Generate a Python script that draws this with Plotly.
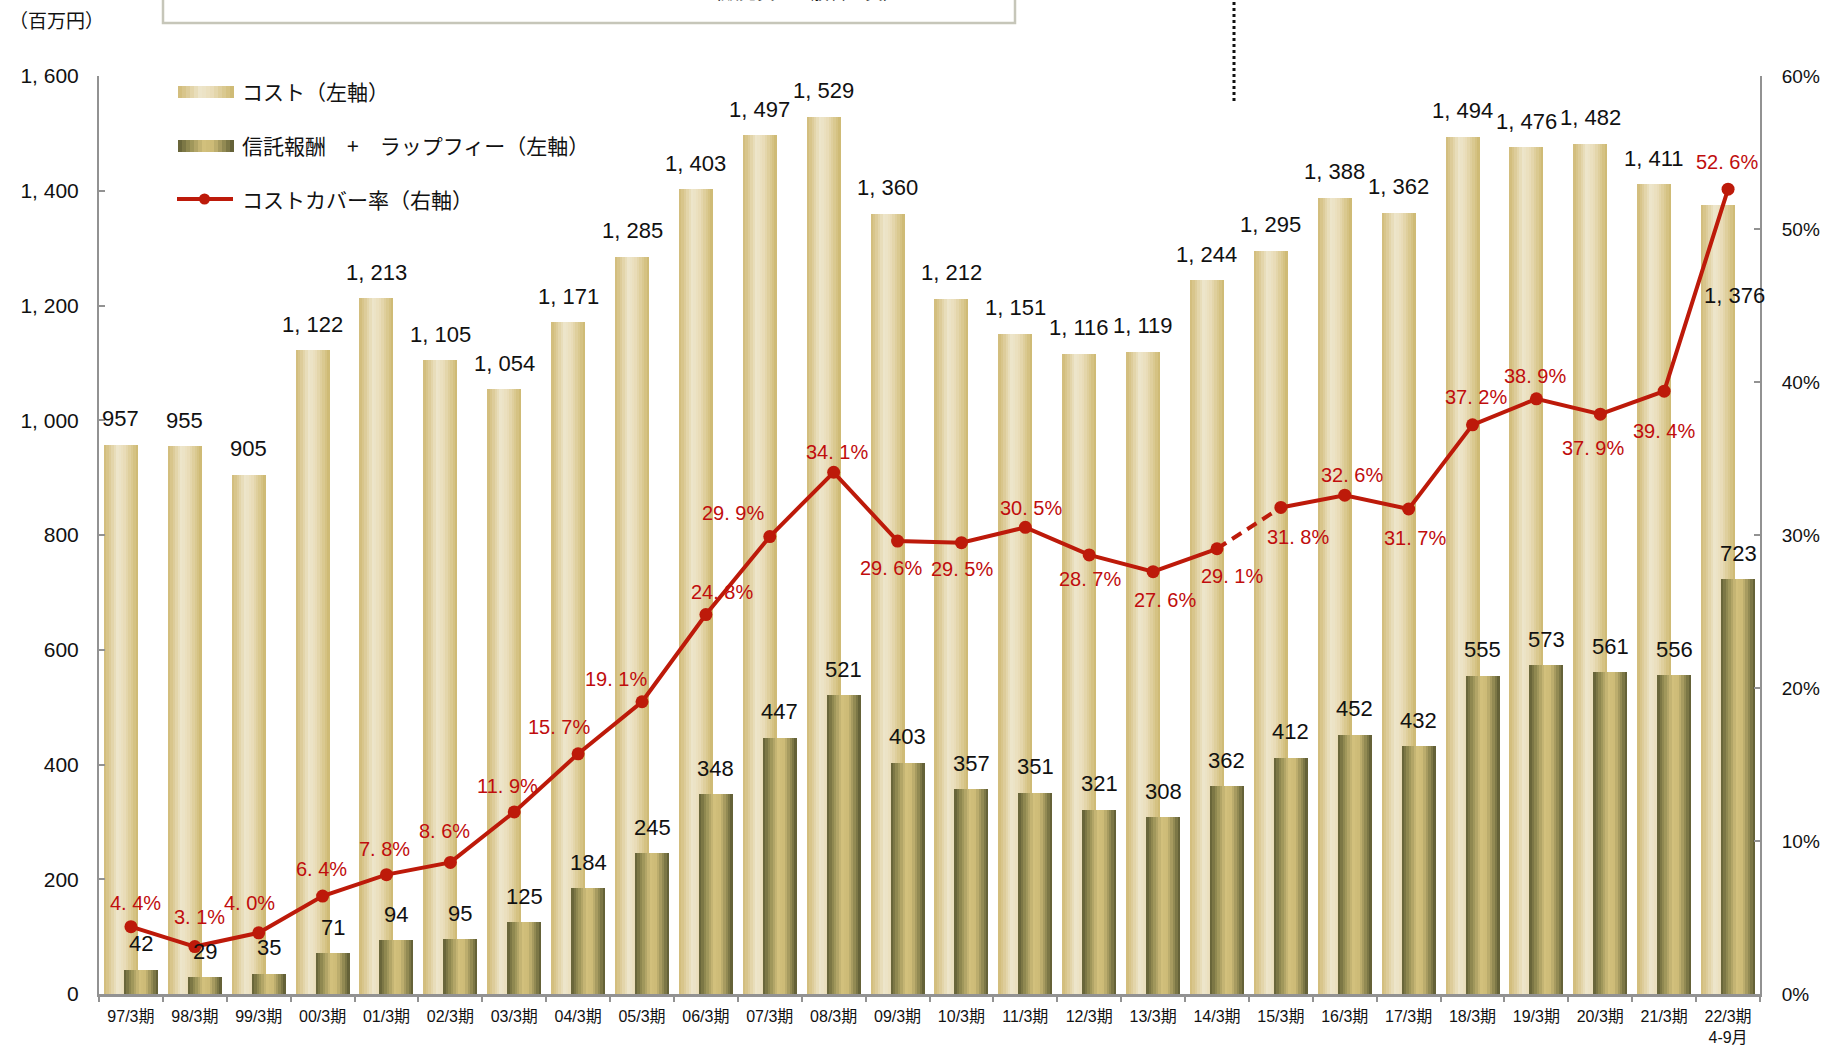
import plotly.graph_objects as go

# ---------------- data ----------------
periods = ["97/3期", "98/3期", "99/3期", "00/3期", "01/3期", "02/3期", "03/3期",
           "04/3期", "05/3期", "06/3期", "07/3期", "08/3期", "09/3期", "10/3期",
           "11/3期", "12/3期", "13/3期", "14/3期", "15/3期", "16/3期", "17/3期",
           "18/3期", "19/3期", "20/3期", "21/3期", "22/3期<br>4-9月"]
cost = [957, 955, 905, 1122, 1213, 1105, 1054, 1171, 1285, 1403, 1497, 1529, 1360,
        1212, 1151, 1116, 1119, 1244, 1295, 1388, 1362, 1494, 1476, 1482, 1411, 1376]
fee = [42, 29, 35, 71, 94, 95, 125, 184, 245, 348, 447, 521, 403,
       357, 351, 321, 308, 362, 412, 452, 432, 555, 573, 561, 556, 723]
cover = [4.4, 3.1, 4.0, 6.4, 7.8, 8.6, 11.9, 15.7, 19.1, 24.8, 29.9, 34.1, 29.6,
         29.5, 30.5, 28.7, 27.6, 29.1, 31.8, 32.6, 31.7, 37.2, 38.9, 37.9, 39.4, 52.6]
left_tick_vals = [0, 200, 400, 600, 800, 1000, 1200, 1400, 1600]
left_tick_text = ["0", "200", "400", "600", "800", "1, 000", "1, 200", "1, 400", "1, 600"]
right_tick_vals = [0, 10, 20, 30, 40, 50, 60]
right_tick_text = ["0%", "10%", "20%", "30%", "40%", "50%", "60%"]
legend_names = ["コスト（左軸）", "信託報酬　+　ラップフィー（左軸）", "コストカバー率（右軸）"]
unit_label = "（百万円）"
box_text = "コスト（販売費・一般管理費）"
dash_from, dash_to = 17, 18   # 14/3期 -> 15/3期 drawn dashed

# ---------------- styles ----------------
W, H = 1822, 1046
ML, MR, MT, MB = 99, 62, 76, 52
PW, PH = W - ML - MR, H - MT - MB
NUM_FONT = "Liberation Sans, Arial, Noto Sans CJK JP, sans-serif"
JP_FONT = "Noto Sans CJK JP, sans-serif"
RED = "#c00d0d"
LINE_RED = "#bd1a0a"
AXIS_GRAY = "#929292"

COST_STOPS = [(0.0, "#d0bb77"), (0.15, "#dbc993"), (0.40, "#eee6cc"), (0.60, "#e9ddb9"),
              (0.85, "#d8c68b"), (1.0, "#ccb770")]
FEE_STOPS = [(0.0, "#5f5d34"), (0.18, "#8f8850"), (0.45, "#d2c07c"), (0.62, "#cdbb77"),
             (0.85, "#8a834e"), (1.0, "#5a5831")]

CAT_PX = PW / len(periods)
BAR_PX = 34
COST_OFF = (-10 - BAR_PX / 2) / CAT_PX
FEE_OFF = (10 - BAR_PX / 2) / CAT_PX
BAR_W = BAR_PX / CAT_PX
NSLICE = 14

# label shifts (pixels) for the percentage labels: (xshift, yshift)
pct_shift = [(5, 24), (5, 30), (-9, 30), (-1, 27), (-2, 26), (-6, 31), (-7, 26), (-19, 27),
             (-26, 23), (16, 23), (-37, 24), (3, 20), (-7, -27), (1, -26), (6, 19),
             (1, -24), (12, -28), (15, -27), (17, -30), (7, 20), (6, -29), (3, 28),
             (-1, 23), (-7, -34), (0, -40), (-1, 27)]
cost_shift_default = (-10, 26)
cost_shift_special = {25: (6, -91)}
fee_shift = (10, 26)


def hex2rgb(h):
    h = h.lstrip("#")
    return tuple(int(h[i:i + 2], 16) for i in (0, 2, 4))


def grad(stops, t):
    for (t0, c0), (t1, c1) in zip(stops[:-1], stops[1:]):
        if t0 <= t <= t1:
            f = (t - t0) / (t1 - t0) if t1 > t0 else 0
            a, b = hex2rgb(c0), hex2rgb(c1)
            r = [round(a[i] + (b[i] - a[i]) * f) for i in range(3)]
            return "rgb(%d,%d,%d)" % tuple(r)
    return stops[-1][1]


def px(x):
    return (x - ML) / PW


def py(y):
    return (MT + PH - y) / PH


def fmt_num(v):
    return f"{v:,}".replace(",", ", ")


def fmt_pct(v):
    return f"{v:.1f}".replace(".", ". ") + "%"


fig = go.Figure()

# gradient bars (each bar drawn as thin vertical slices)
for values, off, stops in ((cost, COST_OFF, COST_STOPS), (fee, FEE_OFF, FEE_STOPS)):
    sw = BAR_W / NSLICE
    for k in range(NSLICE):
        t = (k + 0.5) / NSLICE
        fig.add_trace(go.Bar(
            x=periods, y=values, offset=off + k * sw,
            width=sw * (1.35 if k < NSLICE - 1 else 1.0),
            marker=dict(color=grad(stops, t), line=dict(width=0)),
            showlegend=False, hoverinfo="skip"))

# cost cover ratio line
xs1, ys1 = periods[:dash_from + 1], cover[:dash_from + 1]
xs2, ys2 = periods[dash_to:], cover[dash_to:]
for xs, ys in ((xs1, ys1), (xs2, ys2)):
    fig.add_trace(go.Scatter(
        x=xs, y=ys, yaxis="y2", mode="lines+markers",
        line=dict(color=LINE_RED, width=4),
        marker=dict(size=13, color=LINE_RED),
        showlegend=False, hoverinfo="skip"))
fig.add_trace(go.Scatter(
    x=periods[dash_from:dash_to + 1], y=cover[dash_from:dash_to + 1], yaxis="y2",
    mode="lines", line=dict(color=LINE_RED, width=4, dash="11px,7px"),
    showlegend=False, hoverinfo="skip"))

annotations = []
for i, p in enumerate(periods):
    xs, ys = cost_shift_special.get(i, cost_shift_default)
    annotations.append(dict(x=p, y=cost[i], xref="x", yref="y", text=fmt_num(cost[i]),
                            showarrow=False, xshift=xs, yshift=ys,
                            font=dict(family=NUM_FONT, size=22, color="#111111")))
    annotations.append(dict(x=p, y=fee[i], xref="x", yref="y", text=fmt_num(fee[i]),
                            showarrow=False, xshift=fee_shift[0], yshift=fee_shift[1],
                            font=dict(family=NUM_FONT, size=22, color="#111111")))
    annotations.append(dict(x=p, y=cover[i], xref="x", yref="y2", text=fmt_pct(cover[i]),
                            showarrow=False, xshift=pct_shift[i][0], yshift=pct_shift[i][1],
                            font=dict(family=NUM_FONT, size=20, color=RED)))

# unit label
annotations.append(dict(x=px(7), y=py(4), xref="paper", yref="paper", text=unit_label,
                        showarrow=False, xanchor="left",
                        font=dict(family=JP_FONT, size=19, color="#111111")))
# partially cut box title at top
annotations.append(dict(x=px(647), y=py(6), xref="paper", yref="paper", text=box_text,
                        showarrow=False, yanchor="bottom",
                        font=dict(family=JP_FONT, size=18, color="#111111")))

shapes = []
shapes.append(dict(type="rect", xref="paper", yref="paper", x0=px(163), x1=px(1015),
                   y0=py(23), y1=py(-30), line=dict(color="#c6c6b9", width=2.5),
                   fillcolor="rgba(0,0,0,0)"))
shapes.append(dict(type="line", xref="paper", yref="paper", x0=px(1234), x1=px(1234),
                   y0=py(101), y1=py(-5), line=dict(color="#111111", width=3, dash="dot")))

# manual legend
leg_rows = [(92, COST_STOPS), (146, FEE_STOPS)]
for yc, stops in leg_rows:
    x0, x1 = 178, 234
    sw = (x1 - x0) / NSLICE
    for k in range(NSLICE):
        t = (k + 0.5) / NSLICE
        shapes.append(dict(type="rect", xref="paper", yref="paper",
                           x0=px(x0 + k * sw), x1=px(x0 + (k + 1.3) * sw if k < NSLICE - 1 else x1),
                           y0=py(yc + 6), y1=py(yc - 6), line=dict(width=0),
                           fillcolor=grad(stops, t)))
shapes.append(dict(type="line", xref="paper", yref="paper", x0=px(177), x1=px(233),
                   y0=py(199), y1=py(199), line=dict(color=LINE_RED, width=4)))
shapes.append(dict(type="circle", xref="paper", yref="paper", x0=px(199), x1=px(210),
                   y0=py(204.5), y1=py(193.5), line=dict(width=0), fillcolor=LINE_RED))
for yc, name in zip((92, 146, 200), legend_names):
    annotations.append(dict(x=px(240), y=py(yc - 18), xref="paper", yref="paper", text=name,
                            showarrow=False, xanchor="left",
                            font=dict(family=JP_FONT, size=21, color="#111111")))

fig.update_layout(
    width=W, height=H, autosize=False,
    margin=dict(l=ML, r=MR, t=MT, b=MB),
    paper_bgcolor="white", plot_bgcolor="white",
    barmode="overlay", bargap=0, showlegend=False,
    xaxis=dict(type="category", range=[-0.5, len(periods) - 0.5], showline=True,
               linecolor=AXIS_GRAY, linewidth=2.5, ticks="outside", ticklen=5,
               tickcolor=AXIS_GRAY, tickwidth=1.5, tickson="boundaries", showgrid=False,
               tickfont=dict(family=NUM_FONT, size=16, color="#111111"),
               ticklabelstandoff=6, automargin=False),
    yaxis=dict(range=[0, 1600], tickvals=left_tick_vals, ticktext=left_tick_text,
               ticks="inside", ticklen=6, tickcolor=AXIS_GRAY, tickwidth=1.5,
               showline=True, linecolor=AXIS_GRAY, linewidth=2, showgrid=False,
               zeroline=False, tickfont=dict(family=NUM_FONT, size=21, color="#111111"),
               ticklabelstandoff=14, automargin=False),
    yaxis2=dict(range=[0, 60], tickvals=right_tick_vals, ticktext=right_tick_text,
                overlaying="y", side="right", ticks="inside", ticklen=6,
                tickcolor=AXIS_GRAY, tickwidth=1.5, showline=True, linecolor=AXIS_GRAY,
                linewidth=2, showgrid=False, zeroline=False,
                tickfont=dict(family=NUM_FONT, size=19, color="#111111"),
                ticklabelstandoff=16, automargin=False),
    annotations=annotations, shapes=shapes,
)

fig.write_html("out.html", config={"displayModeBar": False},
               post_script="document.body.style.margin='0';document.body.style.overflow='hidden';")
